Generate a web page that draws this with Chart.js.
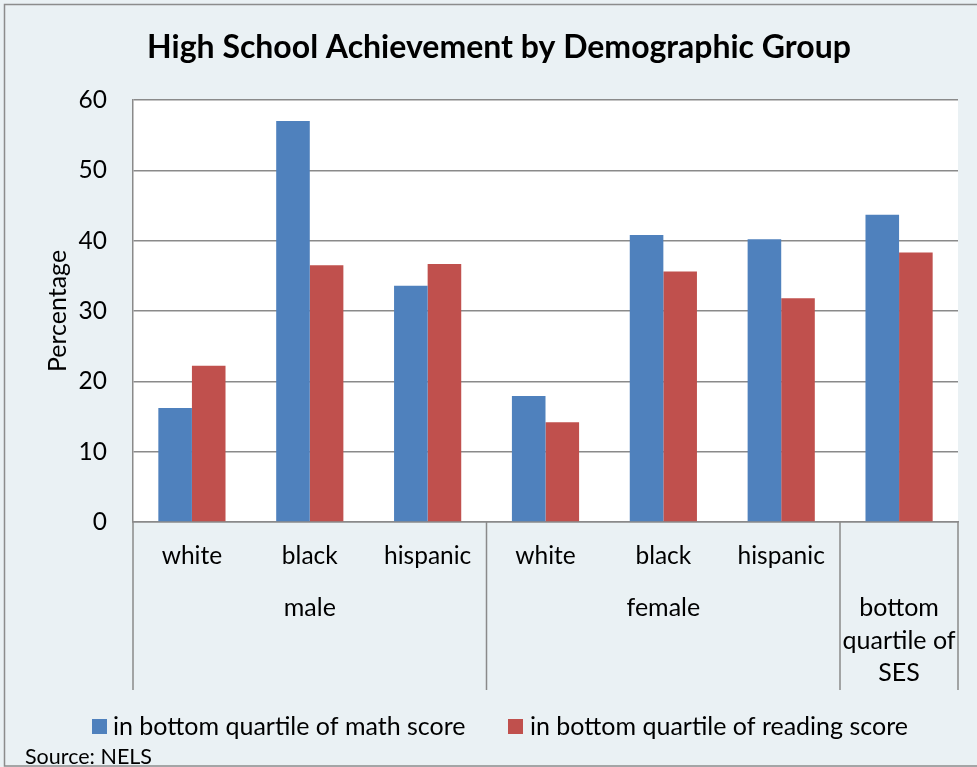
<!DOCTYPE html>
<html>
<head>
<meta charset="utf-8">
<script src="https://cdn.jsdelivr.net/npm/chart.js@4.4.1/dist/chart.umd.min.js"></script>
<style>
  html, body { margin: 0; padding: 0; background: #EAF1F4; }
  #wrap { width: 977px; height: 767px; }
</style>
</head>
<body>
<div id="wrap"><canvas id="c" width="977" height="767"></canvas></div>
<script>
const chartTitle = 'High School Achievement by Demographic Group';
const categories = ['white', 'black', 'hispanic', 'white', 'black', 'hispanic', ''];
const groupLabels = [['male'], ['female'], ['bottom', 'quartile of', 'SES']];
const groupSpans = [3, 3, 1];
const seriesNames = ['in bottom quartile of math score', 'in bottom quartile of reading score'];
const mathValues = [16.2, 57.0, 33.6, 17.9, 40.8, 40.2, 43.7];
const readingValues = [22.2, 36.5, 36.7, 14.2, 35.6, 31.8, 38.3];
const yTickValues = [0, 10, 20, 30, 40, 50, 60];
const yAxisTitle = 'Percentage';
const sourceNote = 'Source: NELS';

const FONT = 'Lato, "Open Sans", sans-serif';
const BG = '#EAF1F4';
const GRID = '#8a8a8a';
const colors = ['#4F81BD', '#C0504D'];

const decorPlugin = {
  id: 'decor',
  beforeDraw(chart) {
    const { ctx, chartArea } = chart;
    ctx.save();
    ctx.fillStyle = BG;
    ctx.fillRect(0, 0, chart.width, chart.height);
    ctx.fillStyle = '#ffffff';
    ctx.fillRect(chartArea.left, chartArea.top, chartArea.right - chartArea.left, chartArea.bottom - chartArea.top);
    ctx.restore();
  },
  afterDraw(chart) {
    const { ctx, chartArea } = chart;
    const xs = chart.scales.x;
    ctx.save();
    // title
    ctx.fillStyle = '#000';
    ctx.font = 'bold 32px ' + FONT;
    ctx.textAlign = 'center';
    ctx.textBaseline = 'middle';
    ctx.fillText(chartTitle, 499, 48);

    // group separators and labels
    const bottom = 690;
    const half = (xs.getPixelForValue(1) - xs.getPixelForValue(0)) / 2;
    ctx.strokeStyle = GRID;
    ctx.lineWidth = 1.5;
    let idx = 0;
    const bounds = [];
    groupSpans.forEach((span) => {
      const l = xs.getPixelForValue(idx) - half;
      const r = xs.getPixelForValue(idx + span - 1) + half;
      bounds.push([l, r]);
      idx += span;
    });
    const edges = new Set();
    bounds.forEach(([l, r]) => { edges.add(Math.round(l * 2) / 2); edges.add(Math.round(r * 2) / 2); });
    edges.forEach((x) => {
      ctx.beginPath();
      ctx.moveTo(x, chartArea.bottom);
      ctx.lineTo(x, bottom);
      ctx.stroke();
    });
    ctx.font = '25px ' + FONT;
    ctx.fillStyle = '#000';
    groupLabels.forEach((lines, i) => {
      const cx = (bounds[i][0] + bounds[i][1]) / 2;
      lines.forEach((t, j) => ctx.fillText(t, cx, 608 + j * 32.5));
    });

    // legend
    const legendItems = [{ box: 92, text: 113 }, { box: 508, text: 530 }];
    ctx.font = '25px ' + FONT;
    ctx.textAlign = 'left';
    chart.data.datasets.forEach((ds, i) => {
      ctx.fillStyle = ds.backgroundColor;
      ctx.fillRect(legendItems[i].box, 719, 15, 15);
      ctx.fillStyle = '#000';
      ctx.fillText(ds.label, legendItems[i].text, 727);
    });

    // source
    ctx.font = '21.5px ' + FONT;
    ctx.fillText(sourceNote, 25, 757);

    // outer border
    ctx.strokeStyle = '#8c8c8c';
    ctx.lineWidth = 1.5;
    ctx.strokeRect(4.5, 4.5, 990, 761.5);
    ctx.restore();
  }
};

new Chart(document.getElementById('c'), {
  type: 'bar',
  data: {
    labels: categories,
    datasets: [
      { label: seriesNames[0], data: mathValues, backgroundColor: colors[0], borderWidth: 0 },
      { label: seriesNames[1], data: readingValues, backgroundColor: colors[1], borderWidth: 0 }
    ]
  },
  options: {
    responsive: false,
    animation: false,
    events: [],
    devicePixelRatio: 1,
    layout: { padding: { top: 100, left: 0, right: 19, bottom: 77 } },
    datasets: { bar: { categoryPercentage: 0.57, barPercentage: 1.0 } },
    plugins: { legend: { display: false }, title: { display: false }, tooltip: { enabled: false } },
    scales: {
      x: {
        type: 'category',
        grid: { display: false, drawTicks: false },
        border: { display: true, color: GRID, width: 1.5 },
        ticks: { color: '#000', font: { family: FONT, size: 24.5 }, padding: 19, maxRotation: 0, autoSkip: false },
        afterFit(scale) { scale.height = 168; }
      },
      y: {
        min: 0, max: 60,
        afterBuildTicks(scale) { scale.ticks = yTickValues.map(v => ({ value: v })); },
        grid: { color: GRID, lineWidth: 1.5, drawTicks: false },
        border: { display: true, color: GRID, width: 1.5 },
        ticks: { color: '#000', font: { family: FONT, size: 24.5 }, padding: 26 },
        title: { display: true, text: yAxisTitle, color: '#000', font: { family: FONT, size: 25 }, padding: { top: 43, bottom: 0 } },
        afterFit(scale) { scale.width = 133; }
      }
    }
  },
  plugins: [decorPlugin]
});
</script>
</body>
</html>
